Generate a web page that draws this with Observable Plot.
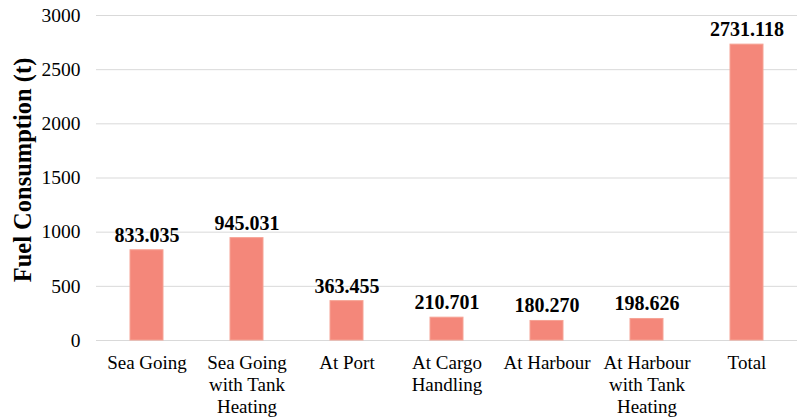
<!DOCTYPE html>
<html>
<head>
<meta charset="utf-8">
<script src="https://cdn.jsdelivr.net/npm/d3@7"></script>
<script src="https://cdn.jsdelivr.net/npm/@observablehq/plot@0.6"></script>
<style>
  html, body { margin: 0; padding: 0; background: #fff; }
  #chart { width: 800px; height: 420px; }
</style>
</head>
<body>
<div id="chart"></div>
<script>
const categories = ["Sea Going", "Sea Going\nwith Tank\nHeating", "At Port", "At Cargo\nHandling", "At Harbour", "At Harbour\nwith Tank\nHeating", "Total"];
const values = [833.035, 945.031, 363.455, 210.701, 180.270, 198.626, 2731.118];
const valueLabels = ["833.035", "945.031", "363.455", "210.701", "180.270", "198.626", "2731.118"];
const yTicks = [0, 500, 1000, 1500, 2000, 2500, 3000];
const yTitle = "Fuel Consumption (t)";

const data = categories.map((c, i) => ({cat: c, value: values[i], label: valueLabels[i]}));

const chart = Plot.plot({
  width: 800,
  height: 420,
  marginLeft: 96,
  marginRight: 3,
  marginTop: 15,
  marginBottom: 80,
  style: {fontFamily: "'Liberation Serif', 'Times New Roman', serif", fontSize: "20px", color: "#000", background: "#fff"},
  x: {domain: categories, paddingInner: 0.67, paddingOuter: 0.335, label: null},
  y: {domain: [0, 3000], ticks: yTicks, label: null},
  marks: [
    Plot.gridY(yTicks, {stroke: "#d9d9d9", strokeOpacity: 1, strokeWidth: 1}),
    Plot.barY(data, {x: "cat", y: "value", fill: "#f4877a", stroke: "#f6a395", strokeWidth: 1}),
    Plot.text(data, {x: "cat", y: "value", text: "label", dy: -15, fontWeight: "bold", fontSize: 20, fill: "#000"}),
    Plot.axisY({ticks: yTicks, tickFormat: "d", tickSize: 0, tickPadding: 16, fontSize: 19.5, label: null}),
    Plot.axisX({tickSize: 0, tickPadding: 13, fontSize: 19, lineHeight: 1.15, label: null, textAnchor: "middle"}),
    Plot.text([yTitle], {frameAnchor: "left", textAnchor: "middle", dx: -73, dy: -8, rotate: -90, fontWeight: "bold", fontSize: 24.5, fill: "#000"})
  ]
});
document.getElementById("chart").appendChild(chart);
</script>
</body>
</html>
